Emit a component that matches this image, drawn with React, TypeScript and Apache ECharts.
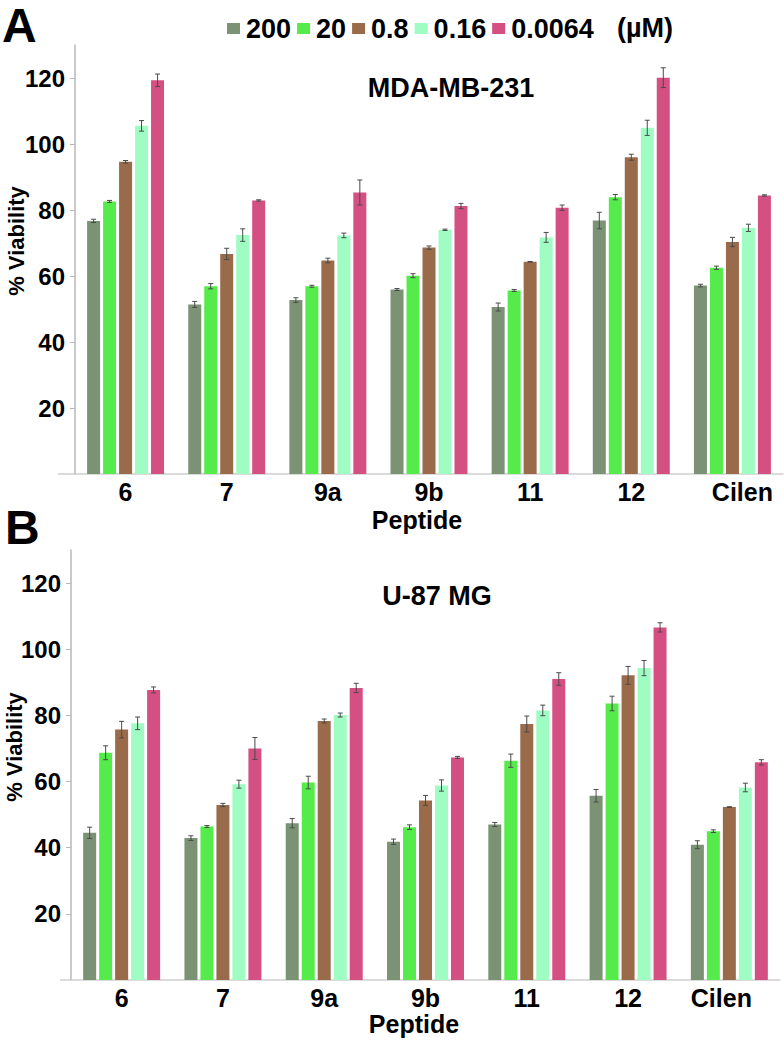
import React, { useEffect, useRef } from "react";
import * as echarts from "echarts";

const CATEGORIES = ["6", "7", "9a", "9b", "11", "12", "Cilen"];
const CONCENTRATIONS = ["200", "20", "0.8", "0.16", "0.0064"];
const COLORS = ["#7b9275", "#55ec4b", "#9a6b4b", "#9ffcc3", "#d44f82"];
const Y_TICKS = [20, 40, 60, 80, 100, 120];

// Panel A: MDA-MB-231
const A_200 = [76.7, 51.4, 52.7, 55.9, 50.6, 76.8, 57.1];
const A_20 = [82.6, 56.9, 56.9, 60.1, 55.6, 83.9, 62.5];
const A_08 = [94.6, 66.7, 64.7, 68.6, 64.3, 96.0, 70.3];
const A_016 = [105.5, 72.4, 72.3, 74.0, 71.7, 104.9, 74.6];
const A_0064 = [119.3, 82.9, 85.3, 81.2, 80.7, 120.1, 84.4];
const A_ERR_200 = [0.5, 0.9, 0.7, 0.3, 1.2, 2.5, 0.4];
const A_ERR_20 = [0.3, 0.8, 0.3, 0.6, 0.3, 0.8, 0.5];
const A_ERR_08 = [0.4, 1.7, 0.7, 0.5, 0.1, 0.9, 1.4];
const A_ERR_016 = [1.6, 1.9, 0.7, 0.2, 1.5, 2.3, 1.1];
const A_ERR_0064 = [1.9, 0.2, 3.8, 0.8, 0.8, 3.0, 0.2];

// Panel B: U-87 MG
const B_200 = [44.5, 42.9, 47.4, 41.8, 47.0, 55.7, 40.9];
const B_20 = [68.7, 46.4, 59.7, 46.2, 66.3, 83.6, 45.0];
const B_08 = [75.7, 52.9, 78.3, 54.3, 77.4, 92.1, 52.3];
const B_016 = [77.6, 59.2, 80.1, 58.8, 81.5, 94.3, 58.2];
const B_0064 = [87.7, 70.0, 88.3, 67.3, 91.0, 106.6, 65.8];
const B_ERR_200 = [1.7, 0.7, 1.4, 0.8, 0.6, 1.9, 1.2];
const B_ERR_20 = [2.1, 0.3, 1.9, 0.7, 2.0, 2.2, 0.4];
const B_ERR_08 = [2.5, 0.5, 0.6, 1.5, 2.4, 2.7, 0.1];
const B_ERR_016 = [1.9, 1.2, 0.6, 1.7, 1.6, 2.3, 1.3];
const B_ERR_0064 = [0.9, 3.3, 1.4, 0.3, 1.9, 1.4, 0.8];

const FONT = "'Liberation Sans', Arial, Helvetica, sans-serif";
const BAR_W = 13;
const BAR_GAP = 0.23;
const STEP = BAR_W * (1 + BAR_GAP);

function buildPanel(idx: number, values: number[][], errs: number[][]) {
  const bars = CONCENTRATIONS.map((name, i) => ({
    type: "bar",
    name,
    xAxisIndex: idx,
    yAxisIndex: idx,
    data: values[i],
    barWidth: BAR_W,
    barGap: `${BAR_GAP * 100}%`,
    itemStyle: { color: COLORS[i] },
  }));
  const errData: number[][] = [];
  values.forEach((vals, i) => {
    vals.forEach((v, j) => errData.push([j, i, v, errs[i][j]]));
  });
  const errSeries = {
    type: "custom",
    name: "err" + idx,
    xAxisIndex: idx,
    yAxisIndex: idx,
    z: 10,
    encode: { x: 0, y: 2 },
    data: errData,
    renderItem: (params: any, api: any) => {
      const cat = api.value(0);
      const s = api.value(1);
      const v = api.value(2);
      const e = api.value(3);
      const top = api.coord([cat, v + e]);
      const bot = api.coord([cat, v - e]);
      const x = top[0] + (s - 2) * STEP;
      const st = { stroke: "#4a4a4a", lineWidth: 1 };
      return {
        type: "group",
        children: [
          { type: "line", shape: { x1: x, y1: top[1], x2: x, y2: bot[1] }, style: st },
          { type: "line", shape: { x1: x - 2.5, y1: top[1], x2: x + 2.5, y2: top[1] }, style: st },
          { type: "line", shape: { x1: x - 2.5, y1: bot[1], x2: x + 2.5, y2: bot[1] }, style: st },
        ],
      };
    },
  };
  return [...bars, errSeries];
}

function xAxis(idx: number, cilenPad: number[]) {
  return {
    type: "category",
    gridIndex: idx,
    data: CATEGORIES,
    axisLine: { lineStyle: { color: "#cfcfcf", width: 1.5 } },
    axisTick: { show: false },
    axisLabel: {
      interval: 0,
      margin: 5,
      color: "#000",
      fontFamily: FONT,
      fontWeight: "bold",
      fontSize: 25,
      formatter: (v: string) => (v === "Cilen" ? "{c|Cilen}" : v),
      rich: {
        c: {
          fontFamily: FONT,
          fontWeight: "bold",
          fontSize: 25,
          color: "#000",
          padding: cilenPad,
        },
      },
    },
  };
}

function yAxis(idx: number) {
  return {
    type: "value",
    gridIndex: idx,
    min: 0,
    max: 130,
    interval: 20,
    splitLine: { show: false },
    axisLine: { show: true, lineStyle: { color: "#b8b8b8", width: 1.5 } },
    axisTick: { show: true, length: 5, customValues: Y_TICKS, lineStyle: { color: "#b8b8b8" } },
    axisLabel: {
      customValues: Y_TICKS,
      margin: 10,
      color: "#000",
      fontFamily: FONT,
      fontWeight: "bold",
      fontSize: 24,
    },
  };
}

const textStyle = (size: number) => ({
  fill: "#000",
  fontFamily: FONT,
  fontWeight: "bold",
  fontSize: size,
});

export default function App() {
  const ref = useRef<HTMLDivElement>(null);
  useEffect(() => {
    if (!ref.current) return;
    const chart = echarts.init(ref.current, undefined, { renderer: "svg" });
    const option = {
      animation: false,
      backgroundColor: "#fff",
      legend: {
        data: CONCENTRATIONS,
        left: 227,
        top: 15,
        padding: 0,
        itemWidth: 13,
        itemHeight: 11,
        itemGap: 6,
        icon: "rect",
        textStyle: {
          color: "#000",
          fontFamily: FONT,
          fontWeight: "bold",
          fontSize: 27,
          padding: [0, 0, 0, 1],
        },
      },
      grid: [
        { left: 75, top: 45, width: 708, height: 429 },
        { left: 71, top: 550, width: 709, height: 430 },
      ],
      xAxis: [xAxis(0, [0, 0, 0, 20]), xAxis(1, [0, 16, 0, 0])],
      yAxis: [yAxis(0), yAxis(1)],
      series: [
        ...buildPanel(0, [A_200, A_20, A_08, A_016, A_0064], [A_ERR_200, A_ERR_20, A_ERR_08, A_ERR_016, A_ERR_0064]),
        ...buildPanel(1, [B_200, B_20, B_08, B_016, B_0064], [B_ERR_200, B_ERR_20, B_ERR_08, B_ERR_016, B_ERR_0064]),
      ],
      graphic: [
        { type: "text", x: 2, y: 25, style: { ...textStyle(48), text: "A", verticalAlign: "middle" } },
        { type: "text", x: 5, y: 527, style: { ...textStyle(48), text: "B", verticalAlign: "middle" } },
        { type: "text", x: 617, y: 28, style: { ...textStyle(27), text: "(µM)", verticalAlign: "middle" } },
        { type: "text", x: 451, y: 88, style: { ...textStyle(27), text: "MDA-MB-231", align: "center", verticalAlign: "middle" } },
        { type: "text", x: 437, y: 596, style: { ...textStyle(27), text: "U-87 MG", align: "center", verticalAlign: "middle" } },
        { type: "text", x: 16, y: 241, rotation: Math.PI / 2, style: { ...textStyle(22), text: "% Viability", align: "center", verticalAlign: "middle" } },
        { type: "text", x: 14, y: 747, rotation: Math.PI / 2, style: { ...textStyle(22), text: "% Viability", align: "center", verticalAlign: "middle" } },
        { type: "text", x: 417, y: 520, style: { ...textStyle(25), text: "Peptide", align: "center", verticalAlign: "middle" } },
        { type: "text", x: 414, y: 1024, style: { ...textStyle(25), text: "Peptide", align: "center", verticalAlign: "middle" } },
        { type: "line", shape: { x1: 58, y1: 474, x2: 75, y2: 474 }, style: { stroke: "#cfcfcf", lineWidth: 1.5 } },
        { type: "line", shape: { x1: 60, y1: 980, x2: 71, y2: 980 }, style: { stroke: "#cfcfcf", lineWidth: 1.5 } },
      ],
    };
    chart.setOption(option as any);
    return () => chart.dispose();
  }, []);
  return (
    <div
      ref={ref}
      style={{ position: "absolute", left: 0, top: 0, width: 784, height: 1041, background: "#fff" }}
    />
  );
}
